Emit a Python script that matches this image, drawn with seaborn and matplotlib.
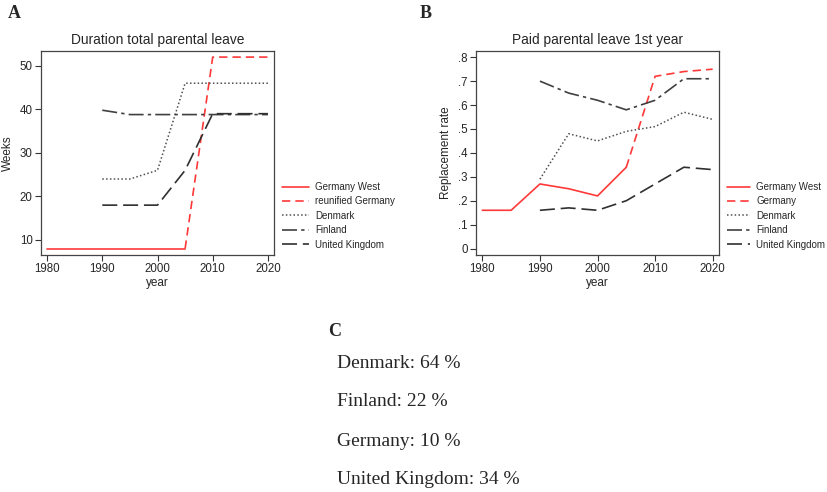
import numpy as np
import pandas as pd
import matplotlib
matplotlib.use("Agg")
import matplotlib.pyplot as plt
import seaborn as sns

# ---- data ----
years_gw = [1980, 1985, 1990, 1995, 2000, 2005]
years_g = [2005, 2010, 2015, 2020]
years_n = [1990, 1995, 2000, 2005, 2010, 2015, 2020]

dur_germany_west = [8, 8, 8, 8, 8, 8]
dur_germany = [8, 52, 52, 52]
dur_denmark = [24, 24, 26, 46, 46, 46, 46]
dur_finland = [39.8, 38.8, 38.8, 38.8, 38.8, 38.8, 38.8]
dur_uk = [18, 18, 18, 26, 39, 39, 39]

rep_germany_west = [0.16, 0.16, 0.27, 0.25, 0.22, 0.34]
rep_germany = [0.34, 0.72, 0.74, 0.75]
rep_denmark = [0.29, 0.48, 0.45, 0.49, 0.51, 0.57, 0.54]
rep_finland = [0.70, 0.65, 0.62, 0.58, 0.62, 0.71, 0.71]
rep_uk = [0.16, 0.17, 0.16, 0.20, 0.27, 0.34, 0.33]

labels_a = ["Germany West", "reunified Germany", "Denmark", "Finland", "United Kingdom"]
labels_b = ["Germany West", "Germany", "Denmark", "Finland", "United Kingdom"]
c_lines = ["Denmark: 64 %", "Finland: 22 %", "Germany: 10 %", "United Kingdom: 34 %"]

sns.set_style("white")
plt.rcParams["font.family"] = ["Liberation Sans", "DejaVu Sans"]

RED = "#ff3838"
styles = [
    dict(color=RED, linestyle="-", linewidth=1.2),
    dict(color=RED, linestyle=(0, (5, 3)), linewidth=1.2),
    dict(color="#505050", linestyle=(0, (1, 1.5)), linewidth=1.1),
    dict(color="#404040", linestyle=(0, (9, 2.5, 2, 2.5)), linewidth=1.2),
    dict(color="#303030", linestyle=(0, (9, 3.5)), linewidth=1.2),
]

fig = plt.figure(figsize=(8.28, 4.92), dpi=100)

def panel(rect, xs, ys, labels, title, ylabel, ylim, yticks, yticklabels, leg_x, hl):
    ax = fig.add_axes(rect)
    for x, y, lab, st in zip(xs, ys, labels, styles):
        sns.lineplot(x=x, y=y, ax=ax, label=lab, **st)
    ax.set_xlim(1978.9, 2021.1)
    ax.set_ylim(*ylim)
    ax.set_xticks([1980, 1990, 2000, 2010, 2020])
    ax.set_yticks(yticks)
    ax.set_yticklabels(yticklabels)
    ax.tick_params(axis="both", direction="out", length=4, width=0.8, color="#333333",
                   labelsize=8.3, bottom=True, left=True, pad=2)
    for s in ax.spines.values():
        s.set_color("#444444")
        s.set_linewidth(0.9)
    ax.set_xlabel("year", fontsize=8.5, labelpad=1)
    ax.set_ylabel(ylabel, fontsize=8.5, labelpad=4)
    ax.set_title(title, fontsize=9.9, pad=5)
    h, l = ax.get_legend_handles_labels()
    ax.legend_.remove()
    fig.legend(h, l, loc="upper left", bbox_to_anchor=(leg_x, 1 - 182 / 492), frameon=False,
               fontsize=7.0, handlelength=hl, handletextpad=0.6, labelspacing=0.45,
               borderaxespad=0, borderpad=0)
    return ax

panel([41 / 828, (492 - 255) / 492, 233 / 828, 204 / 492],
      [years_gw, years_g, years_n, years_n, years_n],
      [dur_germany_west, dur_germany, dur_denmark, dur_finland, dur_uk],
      labels_a, "Duration total parental leave", "Weeks", (6.55, 53.4),
      [10, 20, 30, 40, 50], ["10", "20", "30", "40", "50"], 282 / 828, 2.8)

panel([476 / 828, (492 - 255) / 492, 243 / 828, 204 / 492],
      [years_gw, years_g, years_n, years_n, years_n],
      [rep_germany_west, rep_germany, rep_denmark, rep_finland, rep_uk],
      labels_b, "Paid parental leave 1st year", "Replacement rate", (-0.027, 0.826),
      [0, .1, .2, .3, .4, .5, .6, .7, .8], ["0", ".1", ".2", ".3", ".4", ".5", ".6", ".7", ".8"],
      727 / 828, 2.4)

serif = ["Liberation Serif", "DejaVu Serif"]
fig.text(8 / 828, 1 - 14 / 492, "A", fontsize=13, fontweight="bold", family=serif, va="center")
fig.text(420 / 828, 1 - 14 / 492, "B", fontsize=13, fontweight="bold", family=serif, va="center")
fig.text(328 / 828, 1 - 331 / 492, "C", fontsize=13, fontweight="bold", family=serif, va="center")
for yy, t in zip([363, 402, 441, 480], c_lines):
    fig.text(337 / 828, 1 - yy / 492, t, fontsize=14, family=serif, va="center")

fig.savefig("out.png", dpi=100)
